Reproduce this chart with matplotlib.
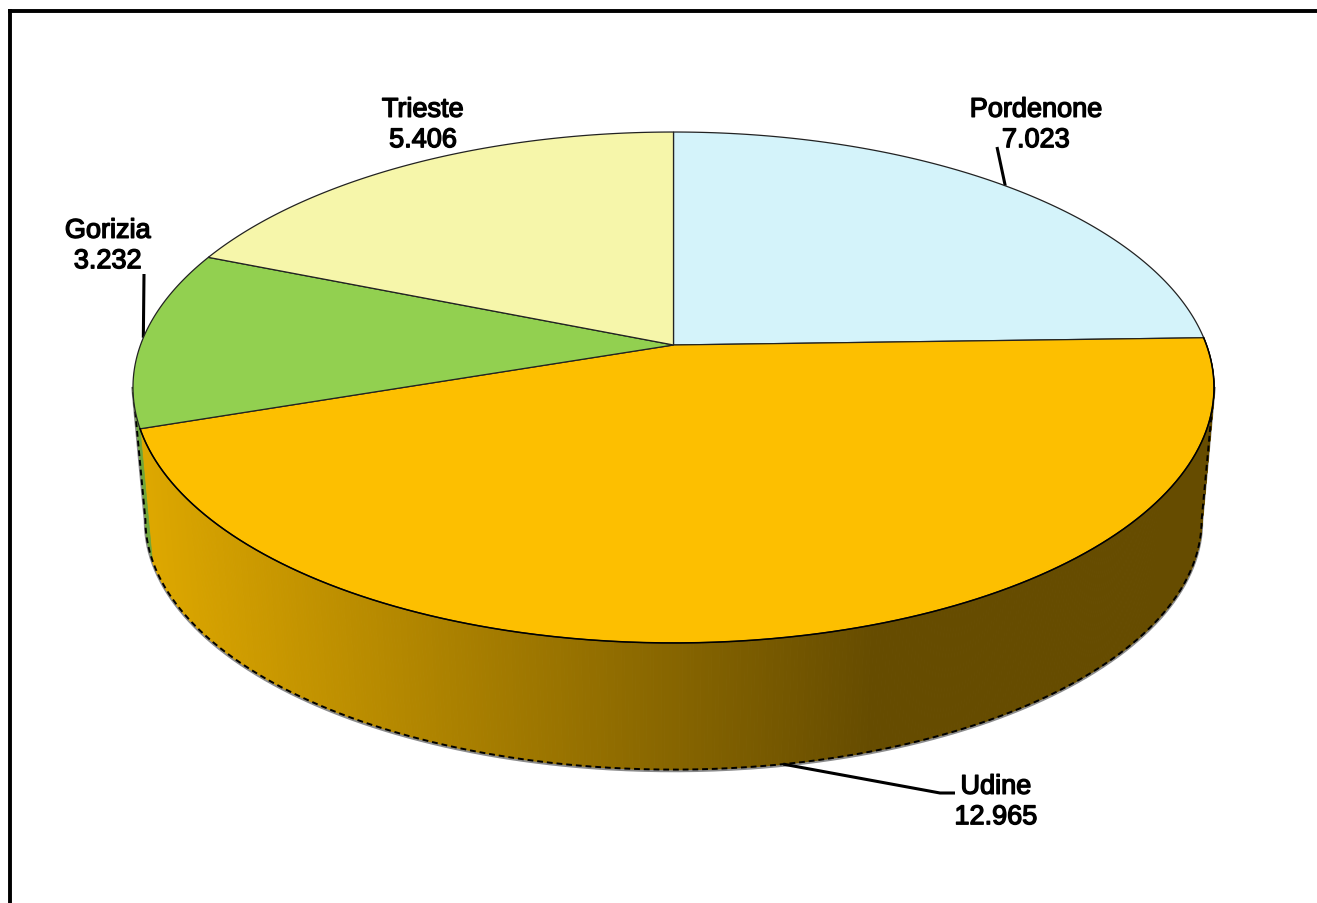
import matplotlib
import numpy as np

matplotlib.use("Agg")
import matplotlib.pyplot as plt  # noqa: E402
from matplotlib.collections import PolyCollection  # noqa: E402
import matplotlib.patheffects as pe  # noqa: E402

provinces = ["Pordenone", "Udine", "Gorizia", "Trieste"]
residents = [7023, 12965, 3232, 5406]
slice_colors = ["#D4F3FA", "#FDBF00", "#92D050", "#F6F6AA"]
side_green = "#6FA63A"

# label centres in pixels, and the elbow of each leader line (None = no leader)
label_pos = [(1036, 126), (996, 803), (108, 247), (423, 126)]
leader_elbow = [[(997, 148)], [(955, 794), (940, 794)], [(144, 275)], None]

# perspective disc, measured on the picture
CX, TOP_Y = 673.5, 346
A, C, K = 533, 248.4, 0.1663
LOWER_SCALE, LOWER_Y = 0.977, 479.5


def rim(deg, lower=False):
    t = np.radians(deg)
    u, v = np.sin(t), np.cos(t)
    d = 1 + K * v
    s, y0 = (LOWER_SCALE, LOWER_Y) if lower else (1.0, TOP_Y)
    return CX + s * A * u / d, y0 - s * C * v / d


def side_color(x):
    f = np.clip((x - 150) / (870 - 150), 0, 1)
    return (np.array([222, 168, 0]) + f * np.array([-120, -92, 0])) / 255


fig = plt.figure(figsize=(13.17, 9.04), dpi=100)
ax = fig.add_axes([0, 0, 1, 1])
ax.set_xlim(0, 1317)
ax.set_ylim(904, 0)
ax.axis("off")

shares = np.array(residents) / sum(residents) * 360
edges = np.concatenate([[0], np.cumsum(shares)])
mids = (edges[:-1] + edges[1:]) / 2

# side wall of the front slice, as thin shaded strips
side_start = edges[1]
side_end = edges[2]
angles = np.linspace(side_start, side_end, 500)
ux, uy = rim(angles)
lx, ly = rim(angles, lower=True)
quads = [
    [(ux[i], uy[i]), (ux[i + 1], uy[i + 1]), (lx[i + 1], ly[i + 1]), (lx[i], ly[i])]
    for i in range(len(angles) - 1)
]
cols = [side_color((lx[i] + lx[i + 1]) / 2) for i in range(len(angles) - 1)]
ax.add_collection(PolyCollection(quads, facecolors=cols, edgecolors=cols, linewidths=0.8, zorder=2))

# the sliver of the next slice that shows on the left
tangent = np.degrees(np.arccos(-K))
green_end = 360 - tangent
ga = np.linspace(edges[2], green_end, 40)
gx = np.concatenate([rim(ga)[0], rim(ga[::-1], lower=True)[0]])
gy = np.concatenate([rim(ga)[1], rim(ga[::-1], lower=True)[1]])
ax.fill(gx, gy, color=side_green, lw=0.5, zorder=2)

# outer silhouette: grey shadow and rough black edge
sil = np.linspace(tangent, green_end, 500)
sx, sy = rim(sil, lower=True)
tx = np.concatenate([[rim(tangent)[0]], sx, [rim(green_end)[0]]])
ty = np.concatenate([[rim(tangent)[1]], sy, [rim(green_end)[1]]])
ax.plot(tx, ty + 1, color="#8C8C8C", lw=2.4, zorder=1)
ax.plot(tx, ty, color="black", lw=1.4, ls=(0, (3, 2)), zorder=3)

# top faces
for start, end, color in zip(edges[:-1], edges[1:], slice_colors):
    a = np.linspace(start, end, 300)
    x, y = rim(a)
    ax.fill(np.r_[CX, x], np.r_[TOP_Y, y], facecolor=color, edgecolor="#222222", lw=0.9, zorder=4)

front = np.linspace(side_start, side_end, 400)
ax.plot(*rim(front), color="black", lw=1.1, zorder=5)

# labels and leaders
for i, name in enumerate(provinces):
    value = f"{residents[i]:,}".replace(",", ".")
    ax.text(
        label_pos[i][0], label_pos[i][1], f"{name}\n{value}",
        ha="center", va="center", family="Liberation Sans", fontsize=19.5,
        linespacing=1.22, color="black", zorder=6,
        path_effects=[pe.withStroke(linewidth=1.0, foreground="black")],
    )
    if leader_elbow[i] is None:
        continue
    anchor = rim(mids[i], lower=name == "Udine")
    xs = [p[0] for p in leader_elbow[i]] + [anchor[0]]
    ys = [p[1] for p in leader_elbow[i]] + [anchor[1]]
    ax.plot(xs, ys, color="black", lw=2.2, solid_capstyle="butt", zorder=3)

# frame: only top and left sides are in the picture
ax.plot([9.5, 9.5], [904, 11.5], color="black", lw=2.8, solid_capstyle="projecting", zorder=7)
ax.plot([9.5, 1317], [11.5, 11.5], color="black", lw=2.8, zorder=7)

fig.savefig("out.png", dpi=100)
plt.close(fig)
